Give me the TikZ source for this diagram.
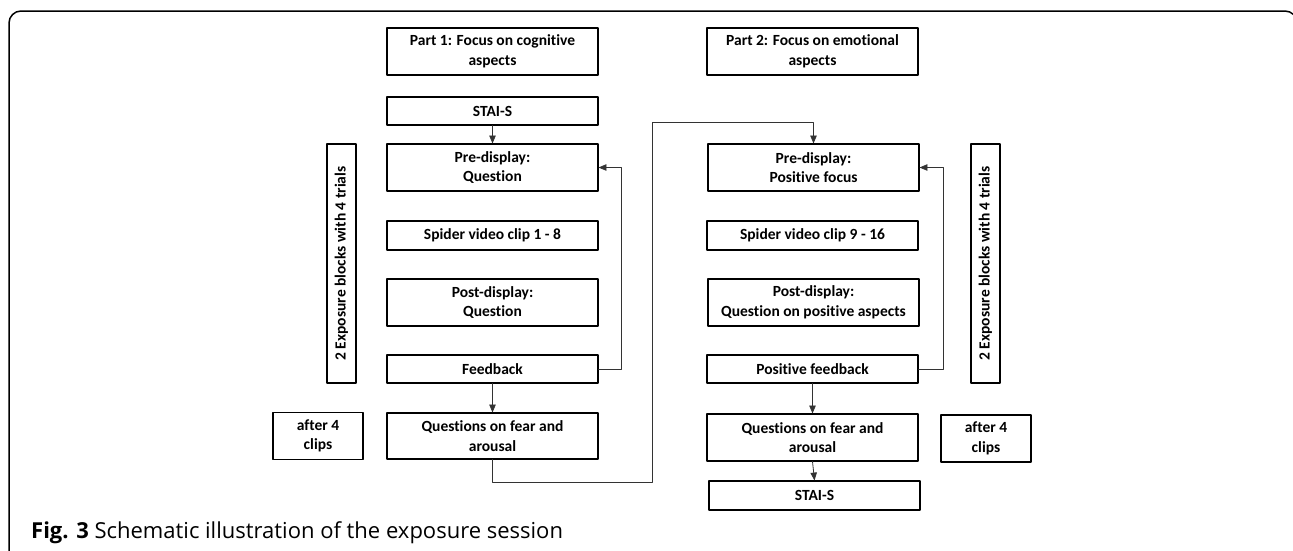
\documentclass[tikz,border=0pt]{standalone}
\usepackage{fontspec}
\setmainfont{Carlito}[Ligatures=NoCommon]
\newfontfamily\capfont{Open Sans}
\usepackage{tikz}
\usetikzlibrary{arrows,positioning}

\tikzset{
  stage/.style={draw=black, line width=1.1pt, minimum width=211pt, align=center,
    inner sep=0pt, font=\fontsize{15.5}{19.5}\selectfont\bfseries},
  single/.style={stage, minimum height=28pt},
  double/.style={stage, minimum height=47pt},
  sidebox/.style={stage, minimum width=90pt, minimum height=47pt},
  blockbox/.style={stage, minimum width=239pt, minimum height=29pt, rotate=90},
  link/.style={line width=0.8pt, draw=black!80, ->}
}

\begin{document}
\begin{tikzpicture}[line cap=round,line join=round,>=triangle 45,x=1pt,y=-1pt]
	\clip (0,0) rectangle (1293,550);
	% frame
	\draw [line width=1.5pt, rounded corners=12pt] (9,560)-- (9,11)-- (1297,11)-- (1297,60);
	
	% part 1
	\node [double] (title1) at (492.5,51.5) {Part 1: Focus on cognitive\\aspects};
	\node [single] (stai1) at (492.5,111) {STAI-S};
	\node [double] (pre1) at (492.5,167.5) {Pre-display:\\Question};
	\node [single, minimum height=29pt] (clip1) at (492.5,235.5) {Spider video clip 1 - 8};
	\node [double] (post1) at (492.5,302.5) {Post-display:\\Question};
	\node [single] (fb1) at (492.5,369) {Feedback};
	\node [double, minimum height=46pt] (fear1) at (492.5,436) {Questions on fear and\\arousal};
	\node [sidebox] (after1) at (318,436) {after 4\\clips};
	\node [blockbox] (blocks1) at (341.5,263.5) {2 Exposure blocks with 4 trials};
	
	% part 2
	\node [double] (title2) at (812.5,51.5) {Part 2: Focus on emotional\\aspects};
	\node [double] (pre2) at (813.5,167.5) {Pre-display:\\Positive focus};
	\node [single, minimum height=29pt] (clip2) at (812.5,235.5) {Spider video clip 9 - 16};
	\node [double] (post2) at (813.5,302.5) {Post-display:\\Question on positive aspects};
	\node [single] (fb2) at (812.5,369) {Positive feedback};
	\node [double] (fear2) at (812.5,437.5) {Questions on fear and\\arousal};
	\node [single, minimum height=29pt] (stai2) at (814.5,495.5) {STAI-S};
	\node [sidebox] (after2) at (986,438.5) {after 4\\clips};
	\node [blockbox] (blocks2) at (985.5,263.5) {2 Exposure blocks with 4 trials};
	
	\coordinate (jog) at (652,122);
	
	\draw [link] (stai1.south)-- (pre1.north);
	\draw [link] (fb1.south)-- (fear1.north);
	\draw [link] (fb1.east)-- ++(23,0) |- (pre1.east);
	\draw [link] (fear1.south)-- ++(0,23) -| (jog) -| (pre2.north);
	\draw [link] (fb2.east)-- ++(25,0) |- (pre2.east);
	\draw [link] (fb2.south)-- (fear2.north);
	\draw [link] (fear2.south)-- (stai2.north);
	
	\node [anchor=base west, inner sep=0pt, font=\capfont\fontsize{22}{25}\selectfont] (caption) at (31,538)
		{\textbf{Fig. 3} Schematic illustration of the exposure session};
\end{tikzpicture}
\end{document}
